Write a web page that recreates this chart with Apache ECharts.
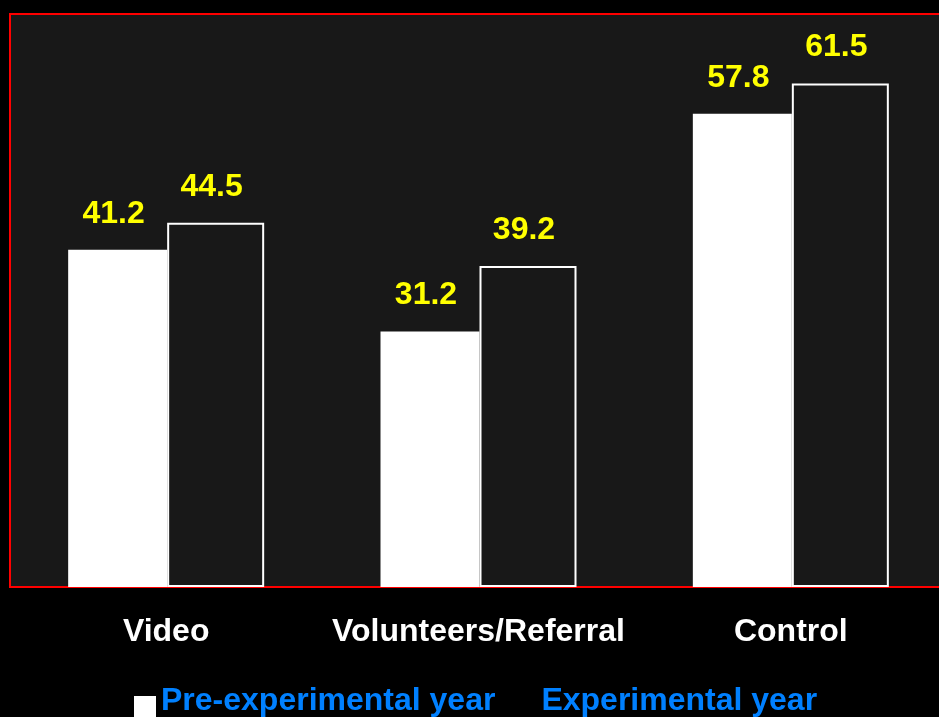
<!DOCTYPE html>
<html>
<head>
<meta charset="utf-8">
<script src="https://cdn.jsdelivr.net/npm/echarts@6/dist/echarts.min.js"></script>
<style>html,body{margin:0;padding:0;background:#000;}#c{width:939px;height:717px;}</style>
</head>
<body>
<div id="c"></div>
<script>
var categories = ['Video', 'Volunteers/Referral', 'Control'];
var preExperimental = [41.2, 31.2, 57.8];
var experimental = [44.5, 39.2, 61.5];
var seriesNames = ['Pre-experimental year', 'Experimental year'];

var chart = echarts.init(document.getElementById('c'), null, {renderer: 'canvas'});
var font = '"Liberation Sans", Arial, sans-serif';
var labelStyle = {
  show: true, position: 'top', distance: 20, offset: [-4, 0],
  color: '#ffff00', fontWeight: 'bold', fontSize: 32, fontFamily: font
};
chart.setOption({
  backgroundColor: '#000000',
  animation: false,
  grid: {
    show: true, left: 10, top: 14, width: 937, height: 573,
    outerBoundsMode: 'none',
    backgroundColor: '#181818', borderColor: '#ff0000', borderWidth: 2,
    containLabel: false
  },
  legend: {
    left: 129, top: 680, itemWidth: 22, itemHeight: 22, itemGap: 19,
    icon: 'rect',
    formatter: '{t|{name}}',
    textStyle: {
      color: '#0080ff', fontWeight: 'bold', fontSize: 32, fontFamily: font,
      rich: {t: {color: '#0080ff', fontWeight: 'bold', fontSize: 32, fontFamily: font, padding: [0, 0, 12, 0]}}
    },
    data: [
      {name: seriesNames[0], itemStyle: {color: '#ffffff', borderWidth: 0}},
      {name: seriesNames[1], itemStyle: {color: '#000000', borderWidth: 0}}
    ]
  },
  xAxis: {
    type: 'category', data: categories,
    axisLine: {show: false}, axisTick: {show: false},
    axisLabel: {interval: 0, color: '#ffffff', fontWeight: 'bold', fontSize: 32, fontFamily: font, margin: 29}
  },
  yAxis: {
    type: 'value', min: 0, max: 70, show: false, splitLine: {show: false}
  },
  series: [
    {
      name: seriesNames[0], type: 'bar', data: preExperimental,
      barWidth: 99, barGap: '0%',
      itemStyle: {color: '#ffffff'},
      label: labelStyle
    },
    {
      name: seriesNames[1], type: 'bar', data: experimental,
      barWidth: 97, barGap: '0%',
      itemStyle: {color: '#181818', borderColor: '#ffffff', borderWidth: 2},
      label: labelStyle
    }
  ]
});
</script>
</body>
</html>
